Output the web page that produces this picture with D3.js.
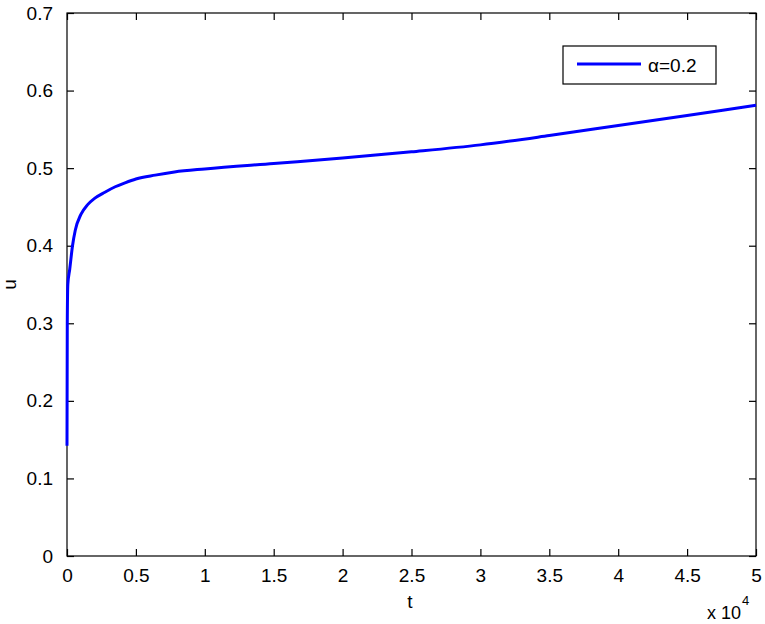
<!DOCTYPE html>
<html>
<head>
<meta charset="utf-8">
<script src="https://cdn.jsdelivr.net/npm/d3@7"></script>
<style>
  html, body { margin: 0; padding: 0; background: #fff; }
  svg { display: block; }
  text { font-family: "Liberation Sans", Arial, sans-serif; fill: #000; }
</style>
</head>
<body>
<svg id="chart" width="765" height="624"></svg>
<script>
// Data (t values, u values)
const tValues = [0, 20, 60, 200, 400, 600, 1000, 1500, 2000, 2750, 3500, 4200, 5000, 6400, 7800, 10000, 15000, 20000, 25000, 30000, 35000, 40000, 45000, 50000];
const uValues = [0.142, 0.30, 0.35, 0.37, 0.40, 0.42, 0.44, 0.453, 0.461, 0.469, 0.476, 0.481, 0.486, 0.491, 0.495, 0.499, 0.506, 0.513, 0.521, 0.530, 0.542, 0.555, 0.568, 0.581];
const xTickValues = [0, 5000, 10000, 15000, 20000, 25000, 30000, 35000, 40000, 45000, 50000];
const xTickLabels = ["0", "0.5", "1", "1.5", "2", "2.5", "3", "3.5", "4", "4.5", "5"];
const yTickValues = [0, 0.1, 0.2, 0.3, 0.4, 0.5, 0.6, 0.7];
const yTickLabels = ["0", "0.1", "0.2", "0.3", "0.4", "0.5", "0.6", "0.7"];
const seriesName = "α=0.2";

const svg = d3.select("#chart");
const L = 67, R = 756, T = 13, B = 556;

const x = d3.scaleLinear().domain([0, 50000]).range([L, R]);
const y = d3.scaleLinear().domain([0, 0.7]).range([B, T]);

const tickLen = 7;
const axisColor = "#000";
const fs = 19;

// Frame
svg.append("rect").attr("x", L).attr("y", T).attr("width", R - L).attr("height", B - T)
  .attr("fill", "none").attr("stroke", axisColor).attr("stroke-width", 1.2);

// Bottom axis
const xAxis = d3.axisBottom(x).tickValues(xTickValues)
  .tickFormat((d, i) => xTickLabels[i]).tickSizeInner(-tickLen).tickSizeOuter(0).tickPadding(13);
const gx = svg.append("g").attr("transform", `translate(0,${B})`).call(xAxis);
gx.select(".domain").remove();
gx.selectAll("line").attr("stroke", axisColor).attr("stroke-width", 1.2);
gx.selectAll("text").attr("font-size", fs).attr("fill", "#000");

// Top ticks
const gxt = svg.append("g").attr("transform", `translate(0,${T})`)
  .call(d3.axisTop(x).tickValues(xTickValues).tickFormat("").tickSizeInner(-tickLen).tickSizeOuter(0));
gxt.select(".domain").remove();
gxt.selectAll("line").attr("stroke", axisColor).attr("stroke-width", 1.2);

// Left axis
const yAxis = d3.axisLeft(y).tickValues(yTickValues)
  .tickFormat((d, i) => yTickLabels[i]).tickSizeInner(-tickLen).tickSizeOuter(0).tickPadding(14);
const gy = svg.append("g").attr("transform", `translate(${L},0)`).call(yAxis);
gy.select(".domain").remove();
gy.selectAll("line").attr("stroke", axisColor).attr("stroke-width", 1.2);
gy.selectAll("text").attr("font-size", fs).attr("fill", "#000");

// Right ticks
const gyr = svg.append("g").attr("transform", `translate(${R},0)`)
  .call(d3.axisRight(y).tickValues(yTickValues).tickFormat("").tickSizeInner(-tickLen).tickSizeOuter(0));
gyr.select(".domain").remove();
gyr.selectAll("line").attr("stroke", axisColor).attr("stroke-width", 1.2);

// Line
const data = tValues.map((t, i) => ({ t, u: uValues[i] }));
const line = d3.line().x(d => x(d.t)).y(d => y(d.u)).curve(d3.curveMonotoneX);
svg.append("path").datum(data).attr("d", line)
  .attr("fill", "none").attr("stroke", "#0000ff").attr("stroke-width", 3);

// Axis labels
svg.append("text").attr("x", 410).attr("y", 608).attr("text-anchor", "middle")
  .attr("font-size", fs).text("t");
svg.append("text").attr("transform", `translate(16,${(T + B) / 2}) rotate(-90)`)
  .attr("text-anchor", "middle").attr("font-size", fs).text("u");

// Exponent label x 10^4
const exp = svg.append("text").attr("x", 707).attr("y", 619).attr("font-size", 18);
exp.append("tspan").text("x 10");
exp.append("tspan").attr("font-size", 13).attr("dy", -14).attr("dx", 1).text("4");

// Legend
const lg = svg.append("g");
lg.append("rect").attr("x", 563).attr("y", 46).attr("width", 153).attr("height", 38)
  .attr("fill", "#fff").attr("stroke", "#000").attr("stroke-width", 1.2);
lg.append("line").attr("x1", 577).attr("x2", 641).attr("y1", 64).attr("y2", 64)
  .attr("stroke", "#0000ff").attr("stroke-width", 3);
lg.append("text").attr("x", 648).attr("y", 72).attr("font-size", fs).text(seriesName);
</script>
</body>
</html>
